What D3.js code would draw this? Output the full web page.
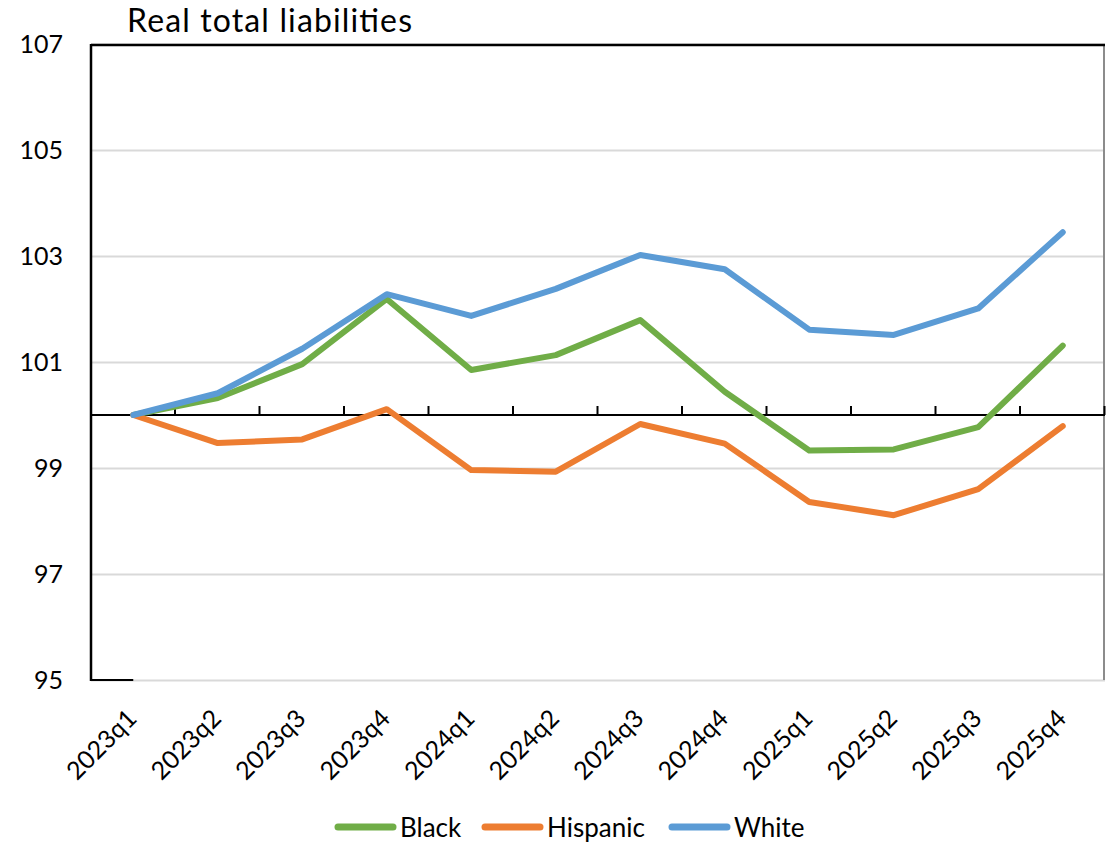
<!DOCTYPE html>
<html>
<head>
<meta charset="utf-8">
<script src="https://cdn.jsdelivr.net/npm/d3@7"></script>
<style>
  html, body { margin: 0; padding: 0; background: #fff; }
  svg { display: block; font-family: Lato, "Open Sans", sans-serif; }
</style>
</head>
<body>
<svg id="chart" width="1112" height="846"></svg>
<script>
const title = "Real total liabilities";
const categories = ["2023q1","2023q2","2023q3","2023q4","2024q1","2024q2","2024q3","2024q4","2025q1","2025q2","2025q3","2025q4"];
const seriesNames = ["Black","Hispanic","White"];
const blackValues = [100, 100.32, 100.96, 102.19, 100.85, 101.13, 101.79, 100.44, 99.33, 99.35, 99.77, 101.31];
const hispanicValues = [100, 99.47, 99.54, 100.11, 98.96, 98.93, 99.83, 99.46, 98.36, 98.11, 98.60, 99.79];
const whiteValues = [100, 100.41, 101.25, 102.28, 101.87, 102.38, 103.02, 102.75, 101.61, 101.51, 102.01, 103.45];
const yTickValues = [95, 97, 99, 101, 103, 105, 107];
const colors = ["#70AD47", "#ED7D31", "#5B9BD5"];

const series = [
  { name: seriesNames[0], values: blackValues, color: colors[0] },
  { name: seriesNames[1], values: hispanicValues, color: colors[1] },
  { name: seriesNames[2], values: whiteValues, color: colors[2] }
];

const svg = d3.select("#chart");
const pLeft = 91, pRight = 1105, pTop = 44, pBottom = 680;

const x = d3.scaleBand().domain(categories).range([pLeft, pRight]).padding(0);
const y = d3.scaleLinear().domain([95, 107]).range([pBottom, pTop]);

// gridlines
svg.append("g")
  .attr("transform", `translate(${pLeft},0)`)
  .call(d3.axisLeft(y).tickValues(yTickValues).tickSize(-(pRight - pLeft)).tickFormat(""))
  .call(g => g.select(".domain").remove())
  .call(g => g.selectAll("line").attr("stroke", "#d9d9d9").attr("stroke-width", 2));

// y tick labels
svg.append("g")
  .attr("transform", `translate(${pLeft},0)`)
  .call(d3.axisLeft(y).tickValues(yTickValues).tickSize(0).tickPadding(28).tickFormat(d3.format("d")))
  .call(g => g.select(".domain").remove())
  .call(g => g.selectAll("text").attr("font-size", 25).attr("fill", "#000").attr("font-family", "Lato, 'Open Sans', sans-serif"));

// plot frame
svg.append("line").attr("x1", pRight - 1).attr("x2", pRight - 1).attr("y1", pTop).attr("y2", pBottom)
  .attr("stroke", "#8c8c8c").attr("stroke-width", 2);
svg.append("line").attr("x1", pLeft).attr("x2", pRight).attr("y1", pTop + 1).attr("y2", pTop + 1)
  .attr("stroke", "#000").attr("stroke-width", 2.5);
svg.append("line").attr("x1", pLeft).attr("x2", x(categories[0]) + x.bandwidth() / 2).attr("y1", pBottom).attr("y2", pBottom)
  .attr("stroke", "#000").attr("stroke-width", 2);
svg.append("line").attr("x1", pLeft).attr("x2", pLeft).attr("y1", pTop).attr("y2", pBottom + 1)
  .attr("stroke", "#000").attr("stroke-width", 2.5);

// category axis at 100
const y100 = y(100);
svg.append("line").attr("x1", pLeft).attr("x2", pRight).attr("y1", y100).attr("y2", y100)
  .attr("stroke", "#000").attr("stroke-width", 2);
const boundaries = categories.map(c => x(c)).concat([x.range()[1]]);
svg.append("g").selectAll("line").data(boundaries.slice(1)).join("line")
  .attr("x1", d => d - 0.5).attr("x2", d => d - 0.5)
  .attr("y1", y100).attr("y2", y100 - 9)
  .attr("stroke", "#000").attr("stroke-width", 2);

// x labels
svg.append("g").selectAll("text").data(categories).join("text")
  .attr("transform", d => `translate(${x(d) + x.bandwidth() / 2 + 5},${pBottom + 40}) rotate(-45)`)
  .attr("text-anchor", "end")
  .attr("font-size", 25)
  .attr("fill", "#000")
  .text(d => d);

// lines
const line = d3.line()
  .x((d, i) => x(categories[i]) + x.bandwidth() / 2)
  .y(d => y(d));
svg.append("g").selectAll("path").data(series).join("path")
  .attr("d", d => line(d.values))
  .attr("fill", "none")
  .attr("stroke", d => d.color)
  .attr("stroke-width", 6)
  .attr("stroke-linejoin", "round")
  .attr("stroke-linecap", "round");

// title
svg.append("text").attr("x", 127).attr("y", 32).attr("font-size", 32)
  .attr("textLength", 285).attr("lengthAdjust", "spacing")
  .attr("fill", "#000").text(title);

// legend
const legendX = [338, 485, 672];
const lg = svg.append("g").selectAll("g").data(series).join("g")
  .attr("transform", (d, i) => `translate(${legendX[i]},827)`);
lg.append("line").attr("x1", 0).attr("x2", 55).attr("y1", 0).attr("y2", 0)
  .attr("stroke", d => d.color).attr("stroke-width", 7).attr("stroke-linecap", "round");
lg.append("text").attr("x", 62).attr("y", 10).attr("font-size", 26).attr("fill", "#000").text(d => d.name);
</script>
</body>
</html>
